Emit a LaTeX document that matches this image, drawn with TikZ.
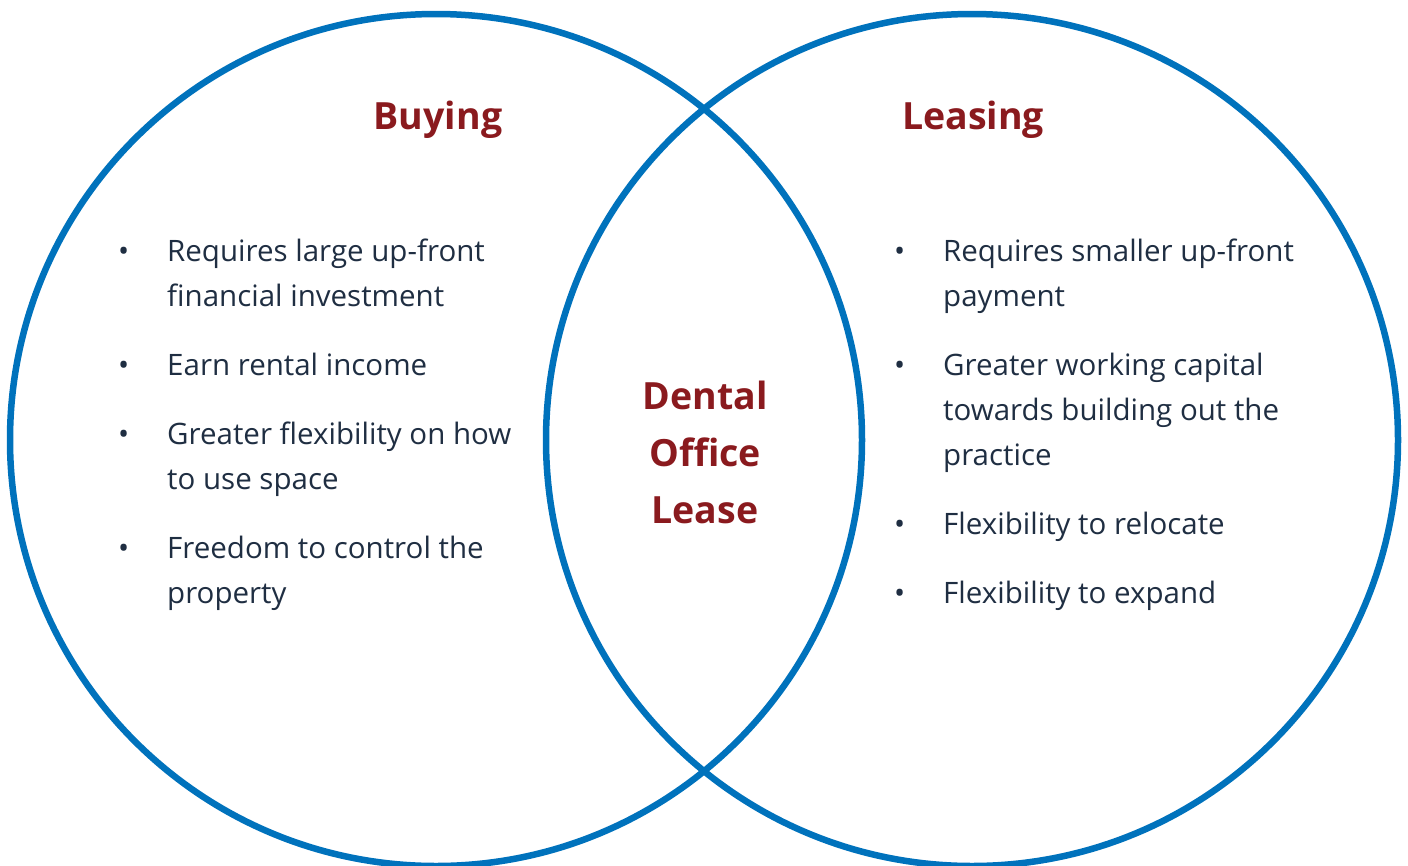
\documentclass[tikz,border=0pt]{standalone}
\usepackage{fontspec}
\setmainfont{Open Sans}
\usepackage{tikz}
\usetikzlibrary{positioning,calc}

\definecolor{ringblue}{RGB}{0,114,188}
\definecolor{titlered}{RGB}{138,26,30}
\definecolor{inkblue}{RGB}{31,46,66}

\tikzset{
    ring/.style={draw=ringblue, line width=6.5pt},
    heading/.style={font=\fontsize{37.5}{57}\selectfont\bfseries, text=titlered, inner sep=0pt},
    pointlist/.style={inner sep=0pt, text width=460pt, text=inkblue, anchor=north west}
}

% bullet list with fixed spacing for both columns
\newenvironment{pointitems}{%
    \fontsize{29.5}{45}\selectfont\spaceskip=0.26em\relax
    \list{\textbullet}{%
        \setlength{\leftmargin}{57pt}\setlength{\labelsep}{38pt}%
        \setlength{\labelwidth}{19pt}%
        \setlength{\topsep}{0pt}\setlength{\partopsep}{0pt}%
        \setlength{\parsep}{0pt}\setlength{\itemsep}{24pt}}\raggedright}
    {\endlist}

\begin{document}
\begin{tikzpicture}[x=1pt, y=-1pt]
    \useasboundingbox (0,0) rectangle (1408,865);

    % the two overlapping circles
    \node[ring, circle, minimum size=852pt, inner sep=0pt] (buyRing) at (436,440) {};
    \node[ring, circle, minimum size=852pt, inner sep=0pt] (leaseRing) at (972,440) {};

    % headings
    \node[heading, anchor=base] (buyTitle) at (438,129) {Buying};
    \node[heading, anchor=base] (leaseTitle) at (973,129) {Leasing};
    \node[heading, align=center] (middle) at (705,452) {Dental\\Office\\Lease};

    % left column
    \node[pointlist] (buyList) at (110,216) {
        \begin{pointitems}
            \item Requires large up-front\\financial investment
            \item Earn rental income
            \item Greater flexibility on how\\to use space
            \item Freedom to control the\\property
        \end{pointitems}
    };

    % right column
    \node[pointlist] (leaseList) at (886,216) {
        \begin{pointitems}
            \item Requires smaller up-front\\payment
            \item Greater working capital\\towards building out the\\practice
            \item Flexibility to relocate
            \item Flexibility to expand
        \end{pointitems}
    };
\end{tikzpicture}
\end{document}
